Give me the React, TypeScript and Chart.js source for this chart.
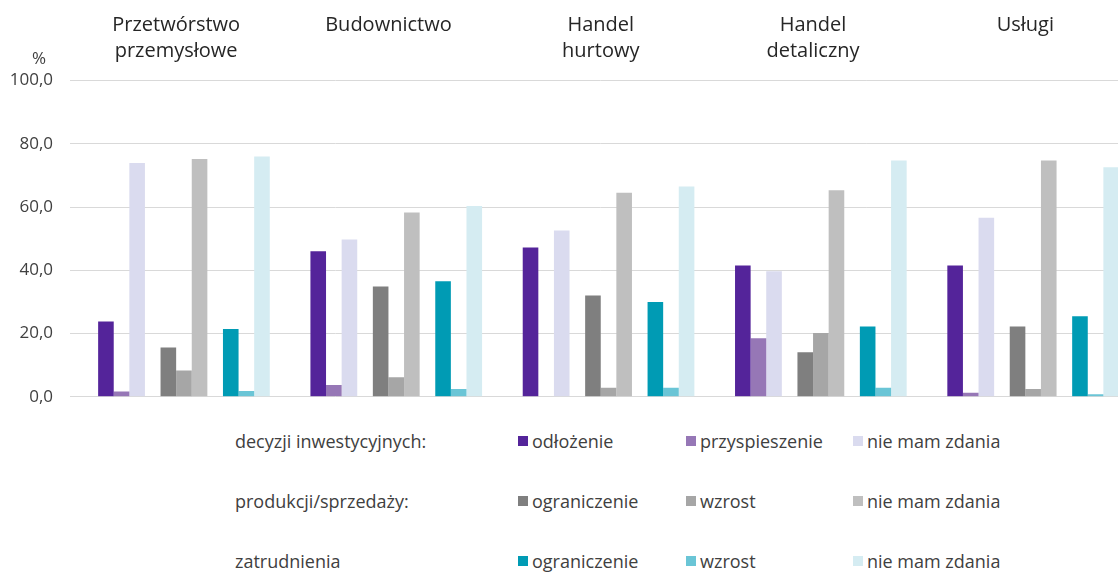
import React, { useEffect, useRef } from "react";
import { Chart, registerables } from "chart.js";

Chart.register(...registerables);

const FONT = "'Open Sans', 'Noto Sans', sans-serif";

const sectors: (string | string[])[] = [
  ["Przetwórstwo", "przemysłowe"],
  "Budownictwo",
  ["Handel", "hurtowy"],
  ["Handel", "detaliczny"],
  "Usługi",
];

const yTicks = [0, 20, 40, 60, 80, 100];

// decyzji inwestycyjnych
const invOdlozenie = [23.8, 46.0, 47.2, 41.5, 41.5];
const invPrzyspieszenie = [1.7, 3.7, 0, 18.5, 1.3];
const invNieMam = [73.9, 49.7, 52.6, 39.7, 56.6];
// produkcji/sprzedaży
const prodOgraniczenie = [15.6, 34.9, 32.0, 14.1, 22.2];
const prodWzrost = [8.3, 6.2, 2.9, 20.2, 2.5];
const prodNieMam = [75.2, 58.3, 64.5, 65.3, 74.7];
// zatrudnienia
const zatrOgraniczenie = [21.4, 36.5, 30.0, 22.2, 25.5];
const zatrWzrost = [1.8, 2.5, 2.9, 2.9, 0.8];
const zatrNieMam = [76.0, 60.3, 66.5, 74.7, 72.6];

const rowLabels = ["decyzji inwestycyjnych:", "produkcji/sprzedaży:", "zatrudnienia"];
const rowItems = [
  ["odłożenie", "przyspieszenie", "nie mam zdania"],
  ["ograniczenie", "wzrost", "nie mam zdania"],
  ["ograniczenie", "wzrost", "nie mam zdania"],
];
const rowColors = [
  ["#54249a", "#9677b6", "#dadbef"],
  ["#7f7f7f", "#a6a6a6", "#bfbfbf"],
  ["#009bb4", "#6ac5d6", "#d5ecf2"],
];
const rowData = [
  [invOdlozenie, invPrzyspieszenie, invNieMam],
  [prodOgraniczenie, prodWzrost, prodNieMam],
  [zatrOgraniczenie, zatrWzrost, zatrNieMam],
];

const fmt = (v: number) => v.toFixed(1).replace(".", ",");

export default function App() {
  const ref = useRef<HTMLCanvasElement | null>(null);

  useEffect(() => {
    if (!ref.current) return;
    const spacer = () => ({
      label: "",
      data: sectors.map(() => null),
      backgroundColor: "rgba(0,0,0,0)",
      borderWidth: 0,
    });
    const datasets: any[] = [];
    rowData.forEach((row, r) => {
      datasets.push(spacer());
      row.forEach((vals, k) => {
        datasets.push({
          label: rowItems[r][k],
          data: vals,
          backgroundColor: rowColors[r][k],
          borderWidth: 0,
        });
      });
    });

    const percentPlugin = {
      id: "percentLabel",
      afterDraw(chart: any) {
        const ctx = chart.ctx;
        const ys = chart.scales.y;
        ctx.save();
        ctx.font = `17px ${FONT}`;
        ctx.fillStyle = "#404040";
        ctx.textAlign = "center";
        ctx.textBaseline = "middle";
        ctx.fillText("%", ys.right - 31, chart.chartArea.top - 21);
        ctx.restore();
      },
    };

    const chart = new Chart(ref.current, {
      type: "bar",
      data: { labels: sectors, datasets },
      options: {
        animation: false,
        responsive: false,
        datasets: { bar: { categoryPercentage: 0.882, barPercentage: 1 } },
        layout: { padding: { left: 0, right: 4.5, top: 0, bottom: 4 } },
        plugins: { legend: { display: false }, tooltip: { enabled: false } },
        scales: {
          x: {
            position: "top",
            grid: { display: false, drawTicks: false },
            border: { display: false },
            ticks: {
              font: { family: FONT, size: 20, lineHeight: 1.3 },
              color: "#262626",
              padding: 16,
              autoSkip: false,
              maxRotation: 0,
              crossAlign: "far",
            },
            afterFit: (s: any) => {
              s.height = 80.5;
            },
          },
          y: {
            min: yTicks[0],
            max: yTicks[yTicks.length - 1],
            afterBuildTicks: (s: any) => {
              s.ticks = yTicks.map((v) => ({ value: v }));
            },
            ticks: {
              callback: (v: any) => fmt(Number(v)),
              font: { family: FONT, size: 17 },
              color: "#404040",
              padding: 17,
            },
            grid: { color: "#d9d9d9", drawTicks: false, lineWidth: 1 },
            border: { display: false },
            afterFit: (s: any) => {
              s.width = 70;
            },
          },
        },
      } as any,
      plugins: [percentPlugin],
    });
    return () => chart.destroy();
  }, []);

  const rowY = [441, 501, 561];
  const swatchX = [518, 686, 853];

  return (
    <div
      style={{
        position: "fixed",
        left: 0,
        top: 0,
        width: 1118,
        height: 572,
        overflow: "hidden",
        background: "#fff",
        fontFamily: FONT,
      }}
    >
      <canvas
        ref={ref}
        width={1136}
        height={424}
        style={{ position: "absolute", left: 0, top: 0, display: "block" }}
      />
      {rowLabels.map((lab, r) => (
        <React.Fragment key={r}>
          <div
            style={{
              position: "absolute",
              left: 235,
              top: rowY[r] - 13,
              lineHeight: "26px",
              fontSize: 18,
              color: "#404040",
              whiteSpace: "nowrap",
            }}
          >
            {lab}
          </div>
          {rowItems[r].map((it, k) => (
            <React.Fragment key={k}>
              <div
                style={{
                  position: "absolute",
                  left: swatchX[k],
                  top: rowY[r] - 5,
                  width: 10,
                  height: 10,
                  background: rowColors[r][k],
                }}
              />
              <div
                style={{
                  position: "absolute",
                  left: swatchX[k] + 14,
                  top: rowY[r] - 13,
                  lineHeight: "26px",
                  fontSize: 18,
                  color: "#404040",
                  whiteSpace: "nowrap",
                }}
              >
                {it}
              </div>
            </React.Fragment>
          ))}
        </React.Fragment>
      ))}
    </div>
  );
}
